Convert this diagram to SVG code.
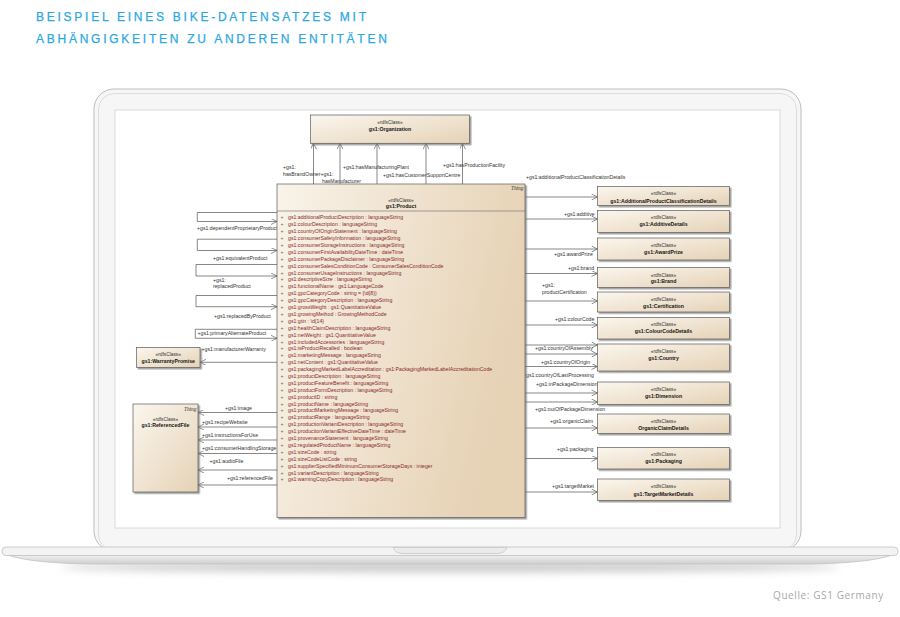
<svg xmlns="http://www.w3.org/2000/svg" width="900" height="617" viewBox="0 0 900 617">
<defs>
<linearGradient id="boxg" x1="0" y1="0" x2="1" y2="1">
<stop offset="0" stop-color="#fbf6ee"/><stop offset="1" stop-color="#e5d2b6"/>
</linearGradient>
<linearGradient id="prodg" x1="0" y1="0" x2="1" y2="0.3">
<stop offset="0" stop-color="#f9f3e9"/><stop offset="1" stop-color="#e6d2b5"/>
</linearGradient>
<linearGradient id="baseg" x1="0" y1="0" x2="0" y2="1">
<stop offset="0" stop-color="#f0f0f0"/><stop offset="1" stop-color="#cfcfcf"/>
</linearGradient>
<filter id="sh" x="-10%" y="-10%" width="130%" height="130%">
<feDropShadow dx="1.6" dy="1.6" stdDeviation="0.7" flood-color="#7a7a7a" flood-opacity="0.7"/>
</filter>
<filter id="blur" x="-20%" y="-200%" width="140%" height="500%">
<feGaussianBlur stdDeviation="4"/>
</filter>
<marker id="ar" viewBox="0 0 10 10" refX="10" refY="5" markerWidth="7" markerHeight="6" markerUnits="userSpaceOnUse" orient="auto">
<path d="M0,0 L10,5 L0,10" fill="none" stroke="#555" stroke-width="1.1"/>
</marker>
<style>
.box{fill:url(#boxg);stroke:#5c5c5c;stroke-width:0.7;filter:url(#sh)}
.st{font-family:"Liberation Sans",Arial,sans-serif;font-size:4.8px;fill:#333;text-anchor:middle}
.nm{font-family:"Liberation Sans",Arial,sans-serif;font-size:5.2px;font-weight:bold;fill:#151515;text-anchor:middle}
.th{font-family:"Liberation Serif","Times New Roman",serif;font-size:5.4px;font-style:italic;fill:#333;text-anchor:end}
.lb{font-family:"Liberation Sans",Arial,sans-serif;font-size:5.2px;fill:#333}
.at{font-family:"Liberation Sans",Arial,sans-serif;font-size:5.2px;fill:#8a2a2a}
.pl{font-family:"Liberation Sans",Arial,sans-serif;font-size:5.2px;fill:#666}
.ca{stroke:#555;stroke-width:0.7;fill:none;marker-end:url(#ar)}
.title{font-family:"Liberation Sans",Arial,sans-serif;font-size:12px;letter-spacing:2.75px;fill:#2aa8df;stroke:#2aa8df;stroke-width:0.25}
</style>
</defs>
<rect width="900" height="617" fill="#ffffff"/>
<text class="title" x="36" y="20.5">BEISPIEL EINES BIKE-DATENSATZES MIT</text>
<text class="title" x="36" y="43.2">ABHÄNGIGKEITEN ZU ANDEREN ENTITÄTEN</text>

<g id="laptop">
<ellipse cx="450" cy="567" rx="390" ry="5" fill="#9a9a9a" opacity="0.55" filter="url(#blur)"/>
<rect x="94" y="89" width="707" height="462" rx="20" fill="#f6f6f6" stroke="#bdbdbd" stroke-width="1"/>
<rect x="98.5" y="93.5" width="698" height="457" rx="16" fill="none" stroke="#d6d6d6" stroke-width="0.8"/>
<rect x="115" y="110" width="665" height="418" fill="#ffffff" stroke="#d0d0d0" stroke-width="0.8"/>
<path d="M8,555 Q30,563 90,564 L810,564 Q870,563 892,555 Z" fill="url(#baseg)" stroke="#c2c2c2" stroke-width="0.8"/>
<rect x="2" y="547" width="896" height="8.5" rx="4" fill="#f3f3f3" stroke="#c2c2c2" stroke-width="0.8"/>
<path d="M393,547.4 L507,547.4 Q505,553.5 497,553.5 L403,553.5 Q395,553.5 393,547.4 Z" fill="#ebebeb" stroke="#c2c2c2" stroke-width="0.7"/>
</g>

<g id="connectors">
<path class="ca" d="M313.5,184 V143.3"/>
<path class="ca" d="M340,184 V143.3"/>
<path class="ca" d="M377,184 V143.3"/>
<path class="ca" d="M426,184 V143.3"/>
<path class="ca" d="M462.5,184 V143.3"/>
<text class="lb" x="283" y="168.5">+gs1:</text>
<text class="lb" x="283" y="176">hasBrandOwner+gs1:</text>
<text class="lb" x="322" y="183">hasManufacturer</text>
<text class="lb" x="343" y="169">+gs1:hasManufacturingPlant</text>
<text class="lb" x="383" y="177.2">+gs1:hasCustomerSupportCentre</text>
<text class="lb" x="443" y="167">+gs1:hasProductionFacility</text>
<path class="ca" d="M277,212.5 H197.3 V221.5 H277"/>
<text class="lb" x="197" y="229.8">+gs1:dependentProprietaryProduct</text>
<path class="ca" d="M277,239.2 H197.3 V250.5 H277"/>
<text class="lb" x="213" y="259.5">+gs1:equivalentProduct</text>
<path class="ca" d="M277,264.5 H196 V276 H277"/>
<text class="lb" x="213" y="281.5">+gs1:</text>
<text class="lb" x="213" y="287.6">replacedProduct</text>
<path class="ca" d="M277,295.5 H196 V306.7 H277"/>
<text class="lb" x="214" y="317.5">+gs1:replacedByProduct</text>
<path class="ca" d="M277,329.3 H195.3 V338.3 H277"/>
<text class="lb" x="197.5" y="335.2">+gs1:primaryAlternateProduct</text>
<path class="ca" d="M277,362.3 H200"/>
<text class="lb" x="201.5" y="350.5">+gs1:manufacturerWarranty</text>
<path class="ca" d="M277,412.5 H198"/>
<text class="lb" x="225" y="410.3">+gs1:image</text>
<path class="ca" d="M277,427 H198"/>
<text class="lb" x="202" y="424">+gs1:recipeWebsite</text>
<path class="ca" d="M277,440 H198"/>
<text class="lb" x="202" y="436.5">+gs1:instructionsForUse</text>
<path class="ca" d="M277,453.5 H198"/>
<text class="lb" x="202" y="450">+gs1:consumerHandlingStorage</text>
<path class="ca" d="M277,470 H198"/>
<text class="lb" x="209.5" y="463">+gs1:audioFile</text>
<path class="ca" d="M277,485 H198"/>
<text class="lb" x="227" y="480">+gs1:referencedFile</text>
<path class="ca" d="M525,197 H597.5"/>
<text class="lb" x="526" y="178.5">+gs1:additionalProductClassificationDetails</text>
<path class="ca" d="M525,219 H597.5"/>
<text class="lb" x="564" y="215.5">+gs1:additive</text>
<path class="ca" d="M525,249 H597.5"/>
<text class="lb" x="554" y="255.5">+gs1:awardPrize</text>
<path class="ca" d="M525,273.5 H597.5"/>
<text class="lb" x="568" y="270">+gs1:brand</text>
<path class="ca" d="M525,301 H597.5"/>
<text class="lb" x="542" y="287">+gs1:</text>
<text class="lb" x="542" y="294">productCertification</text>
<path class="ca" d="M525,325 H597.5"/>
<text class="lb" x="555" y="321.3">+gs1:colourCode</text>
<path class="ca" d="M525,345 H597.5"/>
<path class="ca" d="M525,354 H597.5"/>
<path class="ca" d="M525,366.5 H597.5"/>
<text class="lb" x="535" y="350.2">+gs1:countryOfAssembly</text>
<text class="lb" x="541" y="363.5">+gs1:countryOfOrigin</text>
<text class="lb" x="523" y="377">+gs1:countryOfLastProcessing</text>
<path class="ca" d="M525,393 H597.5"/>
<path class="ca" d="M525,402 H597.5"/>
<text class="lb" x="536" y="385.5">+gs1:inPackageDimension</text>
<text class="lb" x="535" y="410.5">+gs1:outOfPackageDimension</text>
<path class="ca" d="M525,428 H597.5"/>
<text class="lb" x="550" y="423.3">+gs1:organicClaim</text>
<path class="ca" d="M525,458.5 H597.5"/>
<text class="lb" x="557" y="450.5">+gs1:packaging</text>
<path class="ca" d="M525,492 H597.5"/>
<text class="lb" x="552" y="487.5">+gs1:targetMarket</text>
</g>

<g id="organization">
<rect class="box" x="310.5" y="115" width="159" height="28.3"/>
<text class="st" x="390" y="123.8">«rdfsClass»</text>
<text class="nm" x="390" y="130.8">gs1:Organization</text>
</g>

<g id="product">
<rect x="277" y="184" width="248" height="333.5" fill="url(#prodg)" stroke="#5c5c5c" stroke-width="0.7" filter="url(#sh)"/>
<line x1="277" y1="211" x2="525" y2="211" stroke="#6a6a6a" stroke-width="0.6"/>
<text class="th" x="523.5" y="189.8">Thing</text>
<text class="st" x="401" y="201.7">«rdfsClass»</text>
<text class="nm" x="401" y="208">gs1:Product</text>
<text class="pl" x="280.5" y="219.3"><tspan x="280.5">+</tspan><tspan x="280.5" dy="6.9">+</tspan><tspan x="280.5" dy="6.9">+</tspan><tspan x="280.5" dy="6.9">+</tspan><tspan x="280.5" dy="6.9">+</tspan><tspan x="280.5" dy="6.9">+</tspan><tspan x="280.5" dy="6.9">+</tspan><tspan x="280.5" dy="6.9">+</tspan><tspan x="280.5" dy="6.9">+</tspan><tspan x="280.5" dy="6.9">+</tspan><tspan x="280.5" dy="6.9">+</tspan><tspan x="280.5" dy="6.9">+</tspan><tspan x="280.5" dy="6.9">+</tspan><tspan x="280.5" dy="6.9">+</tspan><tspan x="280.5" dy="6.9">+</tspan><tspan x="280.5" dy="6.9">+</tspan><tspan x="280.5" dy="6.9">+</tspan><tspan x="280.5" dy="6.9">+</tspan><tspan x="280.5" dy="6.9">+</tspan><tspan x="280.5" dy="6.9">+</tspan><tspan x="280.5" dy="6.9">+</tspan><tspan x="280.5" dy="6.9">+</tspan><tspan x="280.5" dy="6.9">+</tspan><tspan x="280.5" dy="6.9">+</tspan><tspan x="280.5" dy="6.9">+</tspan><tspan x="280.5" dy="6.9">+</tspan><tspan x="280.5" dy="6.9">+</tspan><tspan x="280.5" dy="6.9">+</tspan><tspan x="280.5" dy="6.9">+</tspan><tspan x="280.5" dy="6.9">+</tspan><tspan x="280.5" dy="6.9">+</tspan><tspan x="280.5" dy="6.9">+</tspan><tspan x="280.5" dy="6.9">+</tspan><tspan x="280.5" dy="6.9">+</tspan><tspan x="280.5" dy="6.9">+</tspan><tspan x="280.5" dy="6.9">+</tspan><tspan x="280.5" dy="6.9">+</tspan><tspan x="280.5" dy="6.9">+</tspan><tspan x="280.5" dy="6.9">+</tspan></text>
<text class="at" x="288" y="219.3"><tspan x="288">gs1:additionalProductDescription : languageString</tspan><tspan x="288" dy="6.9">gs1:colourDescription : languageString</tspan><tspan x="288" dy="6.9">gs1:countryOfOriginStatement : languageString</tspan><tspan x="288" dy="6.9">gs1:consumerSafetyInformation : languageString</tspan><tspan x="288" dy="6.9">gs1:consumerStorageInstructions : languageString</tspan><tspan x="288" dy="6.9">gs1:consumerFirstAvailabilityDateTime : dateTime</tspan><tspan x="288" dy="6.9">gs1:consumerPackageDisclaimer : languageString</tspan><tspan x="288" dy="6.9">gs1:consumerSalesConditionCode : ConsumerSalesConditionCode</tspan><tspan x="288" dy="6.9">gs1:consumerUsageInstructions : languageString</tspan><tspan x="288" dy="6.9">gs1:descriptiveSize : languageString</tspan><tspan x="288" dy="6.9">gs1:functionalName : gs1:LanguageCode</tspan><tspan x="288" dy="6.9">gs1:gpcCategoryCode : string = {\d{8}}</tspan><tspan x="288" dy="6.9">gs1:gpcCategoryDescription : languageString</tspan><tspan x="288" dy="6.9">gs1:grossWeight : gs1:QuantitativeValue</tspan><tspan x="288" dy="6.9">gs1:growingMethod : GrowingMethodCode</tspan><tspan x="288" dy="6.9">gs1:gtin : \d{14}</tspan><tspan x="288" dy="6.9">gs1:healthClaimDescription : languageString</tspan><tspan x="288" dy="6.9">gs1:netWeight : gs1:QuantitativeValue</tspan><tspan x="288" dy="6.9">gs1:includedAccessories : languageString</tspan><tspan x="288" dy="6.9">gs1:isProductRecalled : boolean</tspan><tspan x="288" dy="6.9">gs1:marketingMessage : languageString</tspan><tspan x="288" dy="6.9">gs1:netContent : gs1:QuantitativeValue</tspan><tspan x="288" dy="6.9">gs1:packagingMarkedLabelAccreditation : gs1:PackagingMarkedLabelAccreditationCode</tspan><tspan x="288" dy="6.9">gs1:productDescription : languageString</tspan><tspan x="288" dy="6.9">gs1:productFeatureBenefit : languageString</tspan><tspan x="288" dy="6.9">gs1:productFormDescription : languageString</tspan><tspan x="288" dy="6.9">gs1:productID : string</tspan><tspan x="288" dy="6.9">gs1:productName : languageString</tspan><tspan x="288" dy="6.9">gs1:productMarketingMessage : languageString</tspan><tspan x="288" dy="6.9">gs1:productRange : languageString</tspan><tspan x="288" dy="6.9">gs1:productionVariantDescription : languageString</tspan><tspan x="288" dy="6.9">gs1:productionVariantEffectiveDateTime : dateTime</tspan><tspan x="288" dy="6.9">gs1:provenanceStatement : languageString</tspan><tspan x="288" dy="6.9">gs1:regulatedProductName : languageString</tspan><tspan x="288" dy="6.9">gs1:sizeCode : string</tspan><tspan x="288" dy="6.9">gs1:sizeCodeListCode : string</tspan><tspan x="288" dy="6.9">gs1:supplierSpecifiedMinimumConsumerStorageDays : integer</tspan><tspan x="288" dy="6.9">gs1:variantDescription : languageString</tspan><tspan x="288" dy="6.9">gs1:warningCopyDescription : languageString</tspan></text>
</g>

<g id="warrantyPromise">
<rect class="box" x="136.5" y="347.5" width="63.5" height="20"/>
<text class="st" x="168.2" y="356.2">«rdfsClass»</text>
<text class="nm" x="168.2" y="363">gs1:WarrantyPromise</text>
</g>

<g id="referencedFile">
<rect class="box" x="133" y="404" width="65" height="88"/>
<text class="th" x="196.5" y="410.8">Thing</text>
<text class="st" x="165.5" y="421">«rdfsClass»</text>
<text class="nm" x="165.5" y="427.3">gs1:ReferencedFile</text>
</g>

<g id="additionalProductClassificationDetails">
<rect class="box" x="597.5" y="186.5" width="132" height="19"/>
<text class="st" x="663.5" y="195.3">«rdfsClass»</text>
<text class="nm" x="663.5" y="202.5">gs1:AdditionalProductClassificationDetails</text>
</g>
<g id="additiveDetails">
<rect class="box" x="597.5" y="210.5" width="132" height="22"/>
<text class="st" x="663.5" y="219.3">«rdfsClass»</text>
<text class="nm" x="663.5" y="226.3">gs1:AdditiveDetails</text>
</g>
<g id="awardPrize">
<rect class="box" x="597.5" y="238" width="132" height="22"/>
<text class="st" x="663.5" y="246.8">«rdfsClass»</text>
<text class="nm" x="663.5" y="253.8">gs1:AwardPrize</text>
</g>
<g id="brand">
<rect class="box" x="597.5" y="267.5" width="132" height="20"/>
<text class="st" x="663.5" y="276.5">«rdfsClass»</text>
<text class="nm" x="663.5" y="283.3">gs1:Brand</text>
</g>
<g id="certification">
<rect class="box" x="597.5" y="292" width="132" height="20"/>
<text class="st" x="663.5" y="300.8">«rdfsClass»</text>
<text class="nm" x="663.5" y="307.8">gs1:Certification</text>
</g>
<g id="colourCodeDetails">
<rect class="box" x="597.5" y="317.5" width="132" height="21.5"/>
<text class="st" x="663.5" y="326.3">«rdfsClass»</text>
<text class="nm" x="663.5" y="333.3">gs1:ColourCodeDetails</text>
</g>
<g id="country">
<rect class="box" x="597.5" y="344" width="132" height="27"/>
<text class="st" x="663.5" y="352.7">«rdfsClass»</text>
<text class="nm" x="663.5" y="359.5">gs1:Country</text>
</g>
<g id="dimension">
<rect class="box" x="597.5" y="382" width="132" height="22.5"/>
<text class="st" x="663.5" y="390.7">«rdfsClass»</text>
<text class="nm" x="663.5" y="398.3">gs1:Dimension</text>
</g>
<g id="organicClaimDetails">
<rect class="box" x="597.5" y="414" width="132" height="19.5"/>
<text class="st" x="663.5" y="422.5">«rdfsClass»</text>
<text class="nm" x="663.5" y="429.5">OrganicClaimDetails</text>
</g>
<g id="packaging">
<rect class="box" x="597.5" y="447.5" width="132" height="21.5"/>
<text class="st" x="663.5" y="456">«rdfsClass»</text>
<text class="nm" x="663.5" y="462.5">gs1:Packaging</text>
</g>
<g id="targetMarketDetails">
<rect class="box" x="597.5" y="479" width="132" height="21.5"/>
<text class="st" x="663.5" y="487.7">«rdfsClass»</text>
<text class="nm" x="663.5" y="495.5">gs1:TargetMarketDetails</text>
</g>

<text x="773" y="599" font-family="'Open Sans','Liberation Sans',sans-serif" font-size="10" letter-spacing="0.6" fill="#a8a8a8">Quelle: GS1 Germany</text>
</svg>
